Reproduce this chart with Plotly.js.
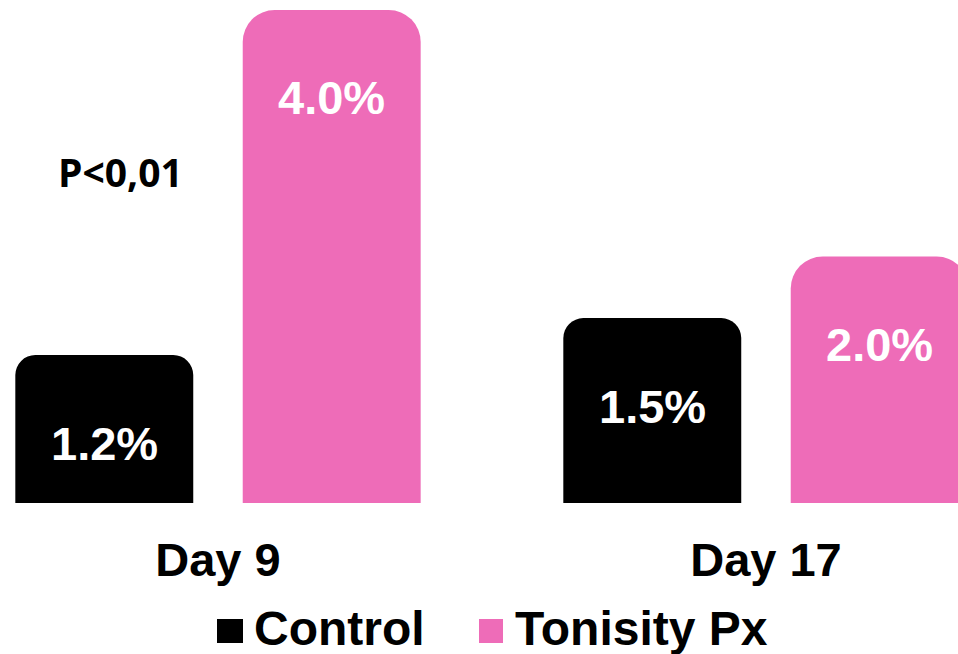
<!DOCTYPE html>
<html>
<head>
<meta charset="utf-8">
<script src="https://cdn.plot.ly/plotly-3.0.1.min.js"></script>
<style>html,body{margin:0;padding:0;background:#fff;}#chart{width:958px;height:654px;}</style>
</head>
<body>
<div id="chart"></div>
<script>
const categories = ["Day 9", "Day 17"];
const controlValues = [1.2, 1.5];
const tonisityValues = [4.0, 2.0];
const controlLabels = ["1.2%", "1.5%"];
const tonisityLabels = ["4.0%", "2.0%"];
const seriesNames = ["Control", "Tonisity Px"];
const pValueText = "P<0,01";

const BLACK = "#000000";
const PINK = "#EE6CB8";
const BARGAP = 0.17;
const BARGROUPGAP = 0.2176;
const FONT = "Arial, 'Liberation Sans', sans-serif";

const traces = [
  {type: "bar", name: seriesNames[0], x: categories, y: controlValues,
   marker: {color: BLACK, cornerradius: 20}, hoverinfo: "skip"},
  {type: "bar", name: seriesNames[1], x: categories, y: tonisityValues,
   marker: {color: PINK, cornerradius: 32}, hoverinfo: "skip"}
];

const half = (1 - BARGAP) / 4;
const annotations = [];
const labelSets = [[controlValues, controlLabels, -half], [tonisityValues, tonisityLabels, half]];
labelSets.forEach(([vals, labels, off]) => {
  vals.forEach((v, i) => {
    annotations.push({x: i + off, y: v, xref: "x", yref: "y", text: labels[i],
      showarrow: false, yshift: -88, xanchor: "center", yanchor: "middle",
      font: {family: FONT, size: 47, color: "#ffffff", weight: "bold"}});
  });
});
annotations.push({x: 0.1253, y: 0.66, xref: "paper", yref: "paper", text: pValueText,
  showarrow: false, xanchor: "center", yanchor: "middle",
  font: {family: "'Open Sans', sans-serif", size: 39, color: "#000", weight: "bold"}});

// custom legend
const legendY = -0.25;
const legendItems = [
  {x0: 217, x1: 243, tx: 252, color: BLACK, name: seriesNames[0]},
  {x0: 479, x1: 503, tx: 513, color: PINK, name: seriesNames[1]}
];
const shapes = [];
legendItems.forEach(it => {
  shapes.push({type: "rect", xref: "paper", yref: "paper",
    x0: it.x0 / 958, x1: it.x1 / 958, y0: (503 - 619) / 503, y1: (503 - 643) / 503,
    fillcolor: it.color, line: {width: 0}});
  annotations.push({x: it.tx / 958, y: legendY, xref: "paper", yref: "paper", text: it.name,
    showarrow: false, xanchor: "left", yanchor: "middle",
    font: {family: FONT, size: 48, color: "#000", weight: "bold"}});
});

const layout = {
  width: 958, height: 654,
  margin: {l: 0, r: 0, t: 0, b: 151, pad: 0},
  paper_bgcolor: "#ffffff", plot_bgcolor: "#ffffff",
  barmode: "group", bargap: BARGAP, bargroupgap: BARGROUPGAP,
  showlegend: false,
  xaxis: {type: "category", range: [-0.3978, 1.3504], showgrid: false, zeroline: false,
    showline: false, ticks: "", ticklabelstandoff: 25,
    tickfont: {family: FONT, size: 47, color: "#000", weight: "bold"}, fixedrange: true},
  yaxis: {visible: false, range: [0, 4.081], fixedrange: true},
  annotations: annotations,
  shapes: shapes
};

Plotly.newPlot("chart", traces, layout, {displayModeBar: false, staticPlot: true});
</script>
</body>
</html>
